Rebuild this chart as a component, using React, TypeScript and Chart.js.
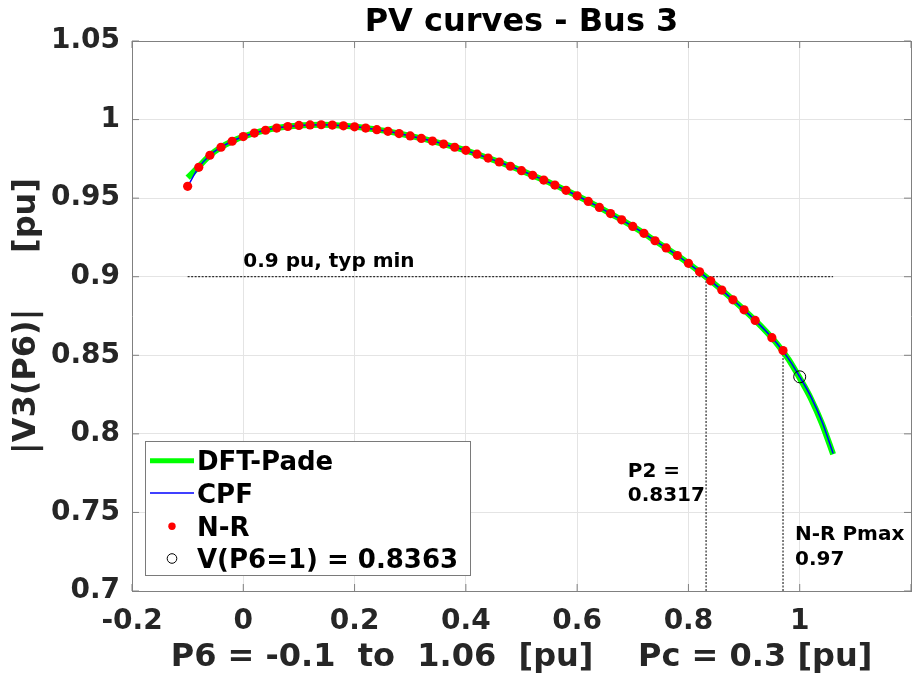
import React, { useEffect, useRef } from 'react';
import { Chart, registerables } from 'chart.js';

Chart.register(...registerables);

const FONT = "'DejaVu Sans', 'Liberation Sans', sans-serif";

// ---- text ----
const chartTitle = 'PV curves - Bus 3';
const xTitle = 'P6 = -0.1  to  1.06  [pu]    Pc = 0.3 [pu]';
const yTitle = '|V3(P6)|     [pu]';
const legendLabels = ['DFT-Pade', 'CPF', 'N-R', 'V(P6=1) = 0.8363'];

// ---- N-R points ----
const pNR = [
  -0.1, -0.08, -0.06, -0.04, -0.02, 0, 0.02, 0.04, 0.06, 0.08,
  0.1, 0.12, 0.14, 0.16, 0.18, 0.2, 0.22, 0.24, 0.26, 0.28,
  0.3, 0.32, 0.34, 0.36, 0.38, 0.4, 0.42, 0.44, 0.46, 0.48,
  0.5, 0.52, 0.54, 0.56, 0.58, 0.6, 0.62, 0.64, 0.66, 0.68,
  0.7, 0.72, 0.74, 0.76, 0.78, 0.8, 0.82, 0.84, 0.86, 0.88,
  0.9, 0.92, 0.95, 0.97,
];
const vNR = [
  0.9575, 0.9696, 0.9773, 0.9824, 0.9862, 0.9892, 0.9914, 0.9932, 0.9946, 0.9956,
  0.9963, 0.9966, 0.9967, 0.9965, 0.996, 0.9954, 0.9946, 0.9936, 0.9925, 0.9911,
  0.9896, 0.988, 0.9863, 0.9844, 0.9824, 0.9804, 0.978, 0.9755, 0.973, 0.9703,
  0.9675, 0.9645, 0.9615, 0.9583, 0.955, 0.9515, 0.9479, 0.9441, 0.9402, 0.9362,
  0.932, 0.9276, 0.9229, 0.9183, 0.9135, 0.9085, 0.9031, 0.8974, 0.8915, 0.8853,
  0.8789, 0.8722, 0.8612, 0.853,
];

// ---- continuous curves (DFT-Pade, CPF) ----
const pCurve = [
  -0.1, -0.08, -0.06, -0.04, -0.02, 0, 0.02, 0.04, 0.06, 0.08,
  0.1, 0.12, 0.14, 0.16, 0.18, 0.2, 0.22, 0.24, 0.26, 0.28,
  0.3, 0.32, 0.34, 0.36, 0.38, 0.4, 0.42, 0.44, 0.46, 0.48,
  0.5, 0.52, 0.54, 0.56, 0.58, 0.6, 0.62, 0.64, 0.66, 0.68,
  0.7, 0.72, 0.74, 0.76, 0.78, 0.8, 0.82, 0.84, 0.86, 0.88,
  0.9, 0.92, 0.94, 0.96, 0.98, 1.0, 1.02, 1.04, 1.06,
];
const vPade = [
  0.963, 0.97, 0.9773, 0.9824, 0.9862, 0.9892, 0.9914, 0.9932, 0.9946, 0.9956,
  0.9963, 0.9966, 0.9967, 0.9965, 0.996, 0.9954, 0.9946, 0.9936, 0.9925, 0.9911,
  0.9896, 0.988, 0.9863, 0.9844, 0.9824, 0.9804, 0.978, 0.9755, 0.973, 0.9703,
  0.9675, 0.9645, 0.9615, 0.9583, 0.955, 0.9515, 0.9479, 0.9441, 0.9402, 0.9362,
  0.932, 0.9276, 0.9229, 0.9183, 0.9135, 0.9085, 0.9031, 0.8974, 0.8915, 0.8853,
  0.8789, 0.8722, 0.865, 0.857, 0.8474, 0.8355, 0.8225, 0.8065, 0.787,
];
const vCPF = [
  0.9575, 0.9696, 0.9773, 0.9824, 0.9862, 0.9892, 0.9914, 0.9932, 0.9946, 0.9956,
  0.9963, 0.9966, 0.9967, 0.9965, 0.996, 0.9954, 0.9946, 0.9936, 0.9925, 0.9911,
  0.9896, 0.988, 0.9863, 0.9844, 0.9824, 0.9804, 0.978, 0.9755, 0.973, 0.9703,
  0.9675, 0.9645, 0.9615, 0.9583, 0.955, 0.9515, 0.9479, 0.9441, 0.9402, 0.9362,
  0.932, 0.9276, 0.9229, 0.9183, 0.9135, 0.9085, 0.9031, 0.8974, 0.8915, 0.8853,
  0.8789, 0.8722, 0.8651, 0.8572, 0.8477, 0.8363, 0.8237, 0.8078, 0.7875,
];

// ---- marked point ----
const pMarked = [1];
const vMarked = [0.8363];

// ---- reference lines ----
const hRefP = [-0.1, 1.06];
const hRefV = [0.9, 0.9];
const p2RefP = [0.8317, 0.8317];
const p2RefV = [0.7, 0.9];
const pmaxRefP = [0.97, 0.97];
const pmaxRefV = [0.7, 0.853];

// ---- text annotations (data coordinates of first baseline) ----
const annotations = [
  { lines: ['0.9 pu, typ min'], p: 0.0, v: 0.9064 },
  { lines: ['P2 =', '0.8317'], p: 0.691, v: 0.7727 },
  { lines: ['N-R Pmax', '0.97'], p: 0.9916, v: 0.7325 },
];

const toXY = (xs: number[], ys: number[]) => xs.map((x, i) => ({ x, y: ys[i] }));

const AXIS_COLOR = '#808080';
const TICK_COLOR = '#262626';

const decorPlugin = {
  id: 'decor',
  afterDatasetsDraw(chart: any) {
    const { ctx, scales } = chart;
    const x = scales.x;
    const y = scales.y;
    ctx.save();
    ctx.fillStyle = '#000';
    ctx.font = `bold 20px ${FONT}`;
    ctx.textAlign = 'left';
    ctx.textBaseline = 'alphabetic';
    annotations.forEach((a) => {
      const px = x.getPixelForValue(a.p);
      const py = y.getPixelForValue(a.v);
      a.lines.forEach((t, i) => ctx.fillText(t, px, py + i * 24.7));
    });
    ctx.restore();
  },
  afterDraw(chart: any) {
    const { ctx, chartArea: ca, scales } = chart;
    const x = scales.x;
    const y = scales.y;
    ctx.save();
    // inward tick marks on all four sides
    ctx.strokeStyle = AXIS_COLOR;
    ctx.lineWidth = 1;
    ctx.beginPath();
    const TL = 7;
    x.ticks.forEach((t: any) => {
      const px = x.getPixelForValue(t.value);
      ctx.moveTo(px, ca.bottom);
      ctx.lineTo(px, ca.bottom - TL);
      ctx.moveTo(px, ca.top);
      ctx.lineTo(px, ca.top + TL);
    });
    y.ticks.forEach((t: any) => {
      const py = y.getPixelForValue(t.value);
      ctx.moveTo(ca.left, py);
      ctx.lineTo(ca.left + TL, py);
      ctx.moveTo(ca.right, py);
      ctx.lineTo(ca.right - TL, py);
    });
    ctx.stroke();

    // legend box
    const bx = 145.5, by = 441.5, bw = 325, bh = 134;
    ctx.fillStyle = '#fff';
    ctx.fillRect(bx, by, bw, bh);
    ctx.strokeStyle = '#7a7a7a';
    ctx.lineWidth = 1;
    ctx.strokeRect(bx, by, bw, bh);

    const rows = [460, 493, 526.3, 558.5];
    ctx.lineCap = 'butt';
    ctx.strokeStyle = '#00ff00';
    ctx.lineWidth = 5;
    ctx.beginPath();
    ctx.moveTo(150, rows[0] + 0.8);
    ctx.lineTo(194, rows[0] + 0.8);
    ctx.stroke();
    ctx.strokeStyle = '#0000ff';
    ctx.lineWidth = 1.5;
    ctx.beginPath();
    ctx.moveTo(150, rows[1]);
    ctx.lineTo(194, rows[1]);
    ctx.stroke();
    ctx.fillStyle = '#ff0000';
    ctx.beginPath();
    ctx.arc(172, rows[2], 3.7, 0, Math.PI * 2);
    ctx.fill();
    ctx.strokeStyle = '#000';
    ctx.lineWidth = 1;
    ctx.beginPath();
    ctx.arc(172, rows[3], 4.8, 0, Math.PI * 2);
    ctx.stroke();

    ctx.fillStyle = '#000';
    ctx.font = `bold 26px ${FONT}`;
    ctx.textAlign = 'left';
    ctx.textBaseline = 'alphabetic';
    legendLabels.forEach((t, i) => ctx.fillText(t, 197, rows[i] + 9.5));
    ctx.restore();
  },
};

const fmt = (v: number) => String(Number(Number(v).toFixed(2)));

export default function App() {
  const ref = useRef<HTMLCanvasElement | null>(null);

  useEffect(() => {
    if (!ref.current) return;
    const refLine = (xs: number[], ys: number[]) => ({
      data: toXY(xs, ys),
      showLine: true,
      borderColor: '#000',
      borderWidth: 1,
      borderDash: [2, 1.5],
      pointRadius: 0,
      fill: false,
      order: 5,
    });
    const chart = new Chart(ref.current, {
      type: 'scatter',
      data: {
        datasets: [
          {
            label: legendLabels[3],
            data: toXY(pMarked, vMarked),
            pointRadius: 6,
            pointBackgroundColor: 'rgba(0,0,0,0)',
            pointBorderColor: '#000',
            pointBorderWidth: 1,
            showLine: false,
            order: 0,
          },
          {
            label: legendLabels[2],
            data: toXY(pNR, vNR),
            pointRadius: 4.6,
            pointBackgroundColor: '#ff0000',
            pointBorderWidth: 0,
            showLine: false,
            order: 1,
          },
          {
            label: legendLabels[1],
            data: toXY(pCurve, vCPF),
            showLine: true,
            borderColor: '#0000ff',
            borderWidth: 1.5,
            pointRadius: 0,
            cubicInterpolationMode: 'monotone',
            fill: false,
            order: 2,
          },
          {
            label: legendLabels[0],
            data: toXY(pCurve, vPade),
            showLine: true,
            borderColor: '#00ff00',
            borderWidth: 6,
            pointRadius: 0,
            cubicInterpolationMode: 'monotone',
            fill: false,
            order: 3,
          },
          refLine(hRefP, hRefV),
          refLine(p2RefP, p2RefV),
          refLine(pmaxRefP, pmaxRefV),
        ] as any,
      },
      options: {
        responsive: false,
        maintainAspectRatio: false,
        devicePixelRatio: 1,
        animation: false,
        events: [],
        layout: { padding: 0, autoPadding: false },
        plugins: {
          legend: { display: false },
          tooltip: { enabled: false },
          title: { display: false },
        },
        scales: {
          x: {
            type: 'linear',
            position: 'bottom',
            min: -0.2,
            max: 1.2,
            ticks: {
              stepSize: 0.2,
              padding: 14,
              color: TICK_COLOR,
              maxRotation: 0,
              autoSkip: false,
              font: { family: FONT, size: 28, weight: 'bold' },
              callback: (v: any) => (Math.abs(v - 1.2) < 1e-6 ? '' : fmt(v)),
            },
            grid: { color: '#e4e4e4', drawTicks: false, lineWidth: 1 },
            border: { display: true, color: AXIS_COLOR, width: 1 },
            title: {
              display: true,
              text: xTitle,
              color: TICK_COLOR,
              font: { family: FONT, size: 32, weight: 'bold', lineHeight: 1 },
              padding: { top: 0, bottom: 3.3 },
            },
            afterFit: (s: any) => {
              s.height = 86;
              s.paddingRight = 0;
              s.paddingLeft = 0;
            },
          },
          y: {
            type: 'linear',
            position: 'left',
            min: 0.7,
            max: 1.05,
            ticks: {
              stepSize: 0.05,
              padding: 12,
              color: TICK_COLOR,
              font: { family: FONT, size: 28, weight: 'bold' },
              callback: (v: any) => fmt(v),
            },
            grid: { color: '#e4e4e4', drawTicks: false, lineWidth: 1 },
            border: { display: true, color: AXIS_COLOR, width: 1 },
            title: {
              display: true,
              text: yTitle,
              color: TICK_COLOR,
              font: { family: FONT, size: 32, weight: 'bold', lineHeight: 1 },
              padding: { top: 11, bottom: 0 },
            },
            afterFit: (s: any) => {
              s.width = 132;
              s.paddingTop = 0;
              s.paddingBottom = 0;
            },
          },
          xTop: {
            type: 'linear',
            axis: 'x',
            position: 'top',
            min: -0.2,
            max: 1.2,
            ticks: { display: false },
            grid: { display: false, drawTicks: false },
            border: { display: true, color: AXIS_COLOR, width: 1 },
            title: {
              display: true,
              text: chartTitle,
              color: '#000',
              font: { family: FONT, size: 32, weight: 'bold', lineHeight: 1 },
              padding: { top: 7, bottom: 0 },
            },
            afterFit: (s: any) => {
              s.height = 41;
              s.paddingRight = 0;
              s.paddingLeft = 0;
            },
          },
          yRight: {
            type: 'linear',
            axis: 'y',
            position: 'right',
            min: 0.7,
            max: 1.05,
            ticks: { display: false },
            grid: { display: false, drawTicks: false },
            border: { display: true, color: AXIS_COLOR, width: 1 },
            afterFit: (s: any) => {
              s.width = 1;
              s.paddingTop = 0;
              s.paddingBottom = 0;
            },
          },
        },
      } as any,
      plugins: [decorPlugin],
    });
    return () => chart.destroy();
  }, []);

  return (
    <div style={{ position: 'fixed', left: 0, top: 0, width: 912, height: 677, background: '#fff' }}>
      <canvas ref={ref} width={912} height={677} style={{ display: 'block' }} />
    </div>
  );
}
